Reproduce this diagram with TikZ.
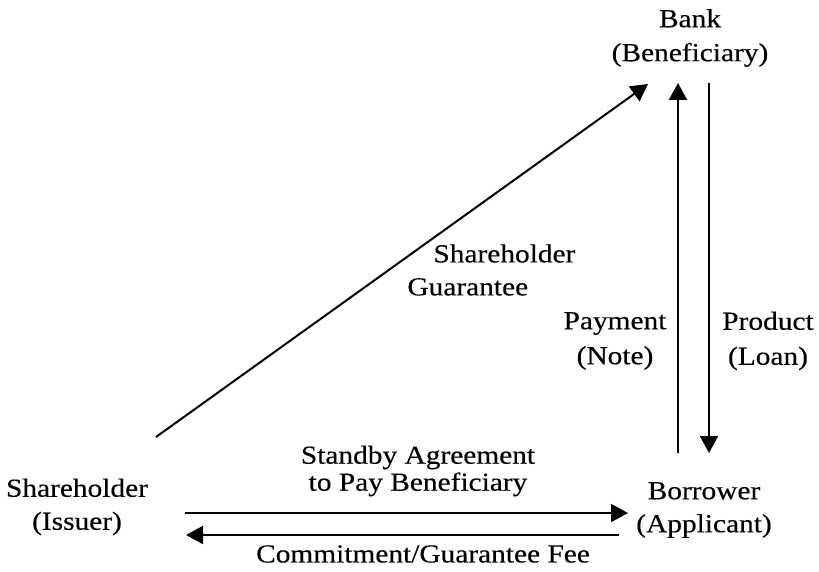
\documentclass[tikz,border=0pt]{standalone}
\usepackage{fontspec}
\setmainfont{Liberation Serif}[FakeBold=0.3]
\usetikzlibrary{arrows.meta}
\begin{document}
\begin{tikzpicture}[x=0.5pt, y=-0.5pt,
        lbl/.style={align=center, inner sep=0pt, xscale=1.13, font=\fontsize{13}{16.5}\selectfont},
        arr/.style={line width=1pt, -{Triangle[length=8.5pt,width=9pt]}}]
    \useasboundingbox (0,0) rectangle (819,572);
    % parties
    \node[lbl, font=\fontsize{13}{17}\selectfont] (bank) at (690,38) {Bank\\(Beneficiary)};
    \node[lbl] (issuer) at (77,507) {Shareholder\\(Issuer)};
    \node[lbl] (borrower) at (704,510) {Borrower\\(Applicant)};
    % flow labels
    \node[lbl, align=left, anchor=west] (guar) at (407,270) {\hspace*{11.5pt}Shareholder\\Guarantee};
    \node[lbl, font=\fontsize{13}{17.5}\selectfont] (pay) at (615,341) {Payment\\(Note)};
    \node[lbl, font=\fontsize{13}{17.5}\selectfont] (prod) at (768,341) {Product\\(Loan)};
    \node[lbl, font=\fontsize{13}{13.5}\selectfont] (standby) at (418,471) {Standby Agreement\\to Pay Beneficiary};
    \node[lbl] (fee) at (423,554) {Commitment/Guarantee Fee};
    % arrow ends
    \coordinate (guar-s) at (156,437);
    \coordinate (guar-e) at (648,84);
    \coordinate (pay-s) at (678,453);
    \coordinate (pay-e) at (678,83);
    \coordinate (prod-s) at (709,83);
    \coordinate (prod-e) at (709,453);
    \coordinate (sb-s) at (185,513);
    \coordinate (sb-e) at (628,513);
    \coordinate (fee-s) at (619,535);
    \coordinate (fee-e) at (186,535);
    \draw[arr] (guar-s) -- (guar-e);
    \draw[arr] (pay-s) -- (pay-e);
    \draw[arr] (prod-s) -- (prod-e);
    \draw[arr] (sb-s) -- (sb-e);
    \draw[arr] (fee-s) -- (fee-e);
\end{tikzpicture}
\end{document}
